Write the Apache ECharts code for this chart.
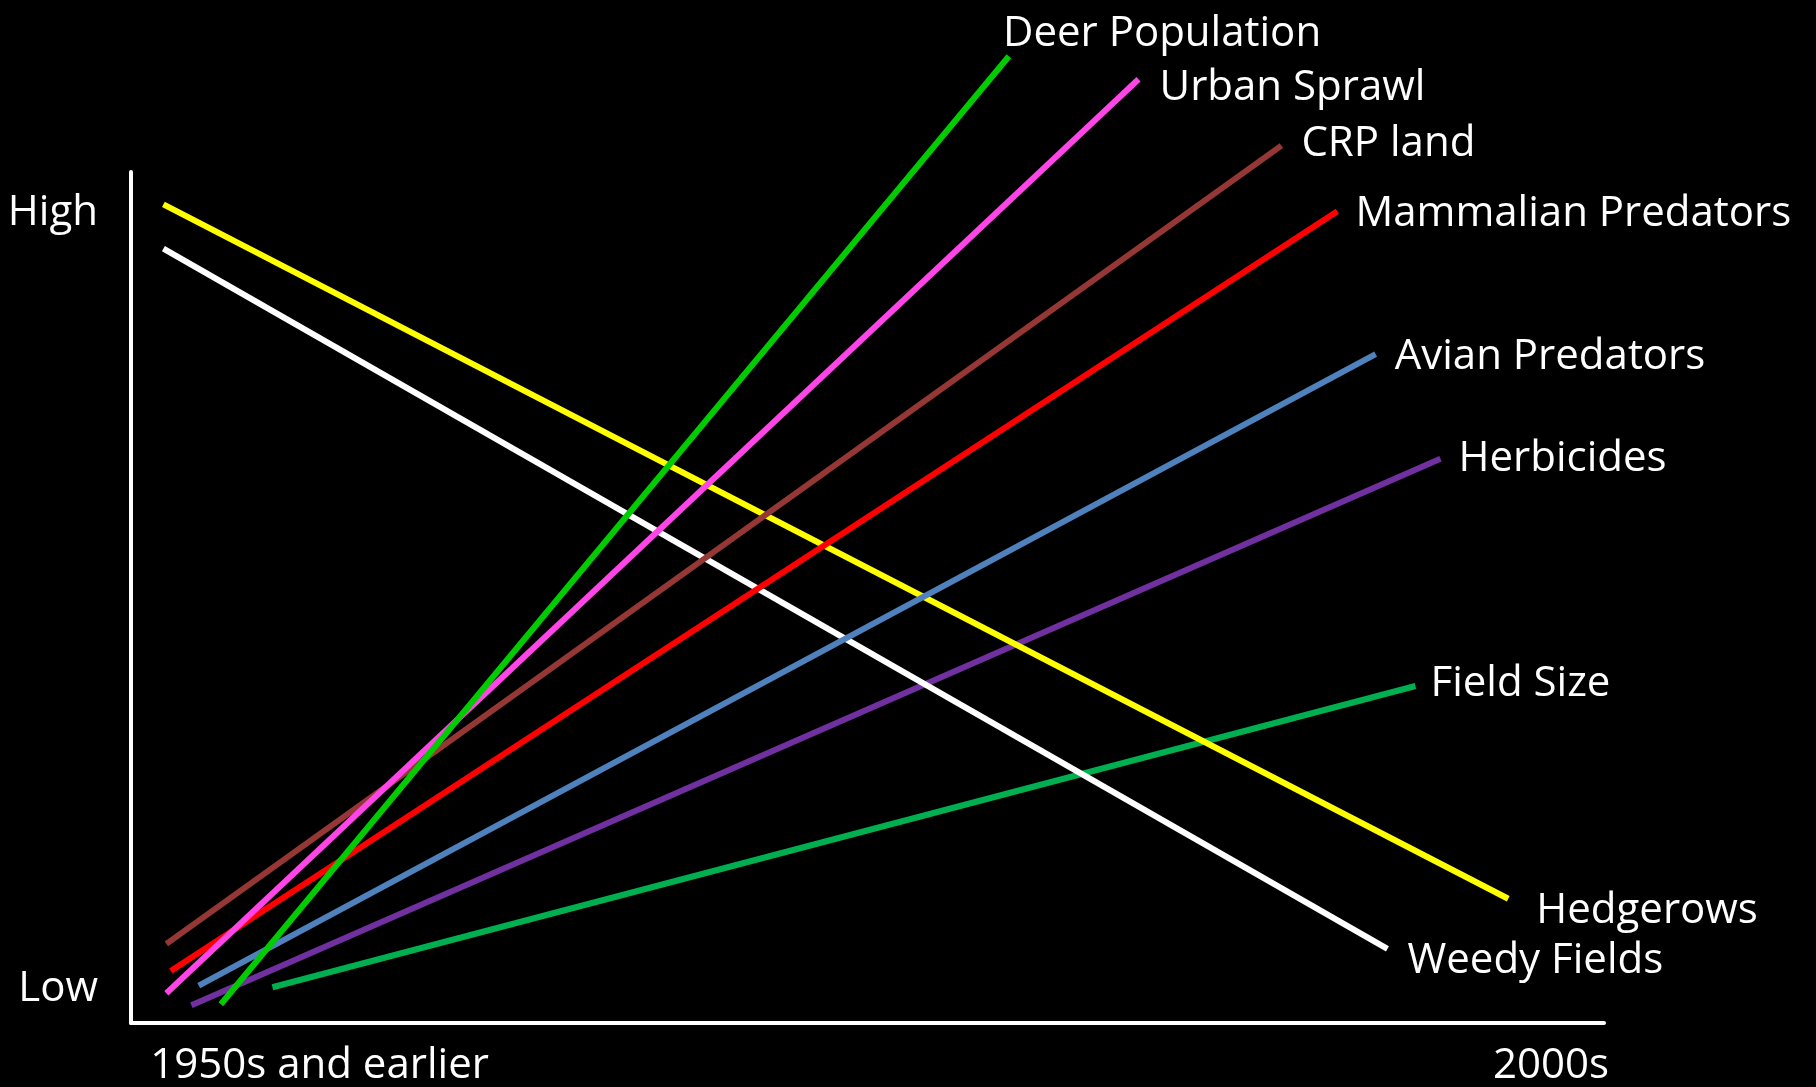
<!DOCTYPE html>
<html>
<head>
<meta charset="utf-8">
<script src="https://cdn.jsdelivr.net/npm/echarts@6/dist/echarts.min.js"></script>
<style>
html,body{margin:0;padding:0;background:#000;}
#chart{width:1816px;height:1087px;}
</style>
</head>
<body>
<div id="chart"></div>
<script>
// ---- data (x: 0 = 1950s and earlier .. 100 = 2000s ; y: 0 = Low .. 100 = High) ----
const seriesNames = ['Field Size','Herbicides','Weedy Fields','Hedgerows','Avian Predators','Mammalian Predators','CRP land','Urban Sprawl','Deer Population'];
const startTime   = [9.6, 4.1, 2.2, 2.2, 4.6, 2.7, 2.4, 2.4, 6.1];
const startLevel  = [4.2, 2.1, 91.0, 96.2, 4.4, 6.1, 9.3, 3.5, 2.2];
const endTime     = [87.2, 88.9, 85.3, 93.5, 84.5, 81.9, 78.1, 68.4, 59.6];
const endLevel    = [39.6, 66.3, 8.7, 14.6, 78.6, 95.4, 103.1, 110.9, 113.6];
const xTickValues = [12.8, 96.4];
const xTickLabels = ['1950s and earlier', '2000s'];
const yTickValues = [4.0, 95.2];
const yTickLabels = ['Low', 'High'];

// ---- styles ----
const lineColors = ['#00B050','#7030A0','#FFFFFF','#FFFF00','#4F81BD','#FF0000','#953735','#FF45E8','#00CC00'];
const labelOffsets = [[7,-2],[10,0],[12,12],[20,12],[11,3],[10,3],[12,-2],[13,9],[-14,-22]];
const FONT = 'Open Sans';
const FS = 42;

const chart = echarts.init(document.getElementById('chart'), null, {renderer: 'canvas'});

const series = seriesNames.map((name, i) => ({
  name: name,
  type: 'line',
  data: [[startTime[i], startLevel[i]], [endTime[i], endLevel[i]]],
  symbol: 'none',
  showSymbol: false,
  clip: false,
  silent: true,
  lineStyle: {color: lineColors[i], width: 6, cap: 'butt'},
  itemStyle: {color: lineColors[i]},
  emphasis: {disabled: true},
  endLabel: {
    show: true,
    formatter: name,
    color: '#FFFFFF',
    fontFamily: FONT,
    fontSize: FS,
    offset: labelOffsets[i]
  },
  z: 2 + i
}));

chart.setOption({
  backgroundColor: '#000000',
  animation: false,
  grid: {left: 131, right: 212, top: 172, bottom: 64, containLabel: false},
  xAxis: {
    type: 'value', min: 0, max: 100,
    axisLine: {show: true, onZero: false, lineStyle: {color: '#FFFFFF', width: 4}},
    axisTick: {show: false},
    splitLine: {show: false},
    axisLabel: {
      show: true,
      customValues: xTickValues,
      formatter: v => { const k = xTickValues.indexOf(v); return k >= 0 ? xTickLabels[k] : ''; },
      color: '#FFFFFF', fontFamily: FONT, fontSize: FS, margin: 22
    }
  },
  yAxis: {
    type: 'value', min: 0, max: 100,
    axisLine: {show: true, onZero: false, lineStyle: {color: '#FFFFFF', width: 4}},
    axisTick: {show: false},
    splitLine: {show: false},
    axisLabel: {
      show: true,
      customValues: yTickValues,
      formatter: v => { const k = yTickValues.indexOf(v); return k >= 0 ? yTickLabels[k] : ''; },
      color: '#FFFFFF', fontFamily: FONT, fontSize: FS, margin: 33,
      padding: [6, 0, 0, 0]
    }
  },
  series: series
});
</script>
</body>
</html>
